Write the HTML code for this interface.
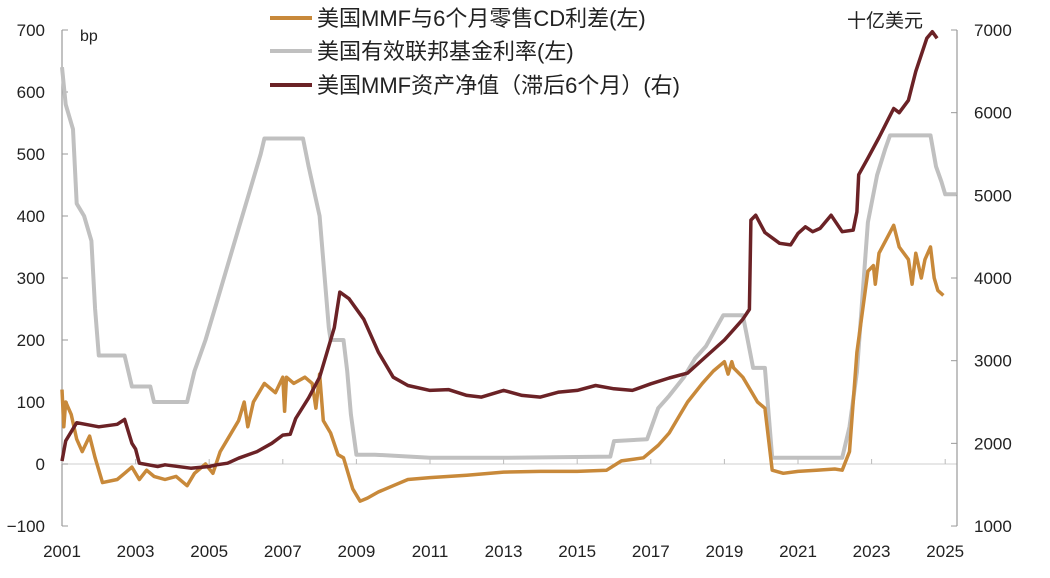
<!DOCTYPE html>
<html><head><meta charset="utf-8"><style>
body{margin:0;background:#fff;}
svg{display:block;font-family:"Liberation Sans","Noto Sans CJK SC",sans-serif;}
</style></head><body>
<svg width="1050" height="578" viewBox="0 0 1050 578">
<g id="axes"></g>
<g id="series"></g>
<g>
  <line x1="270" y1="18" x2="312" y2="18" stroke="#C8893A" stroke-width="4"/>
  <text x="317" y="26" font-size="22" fill="#222">美国MMF与6个月零售CD利差(左)</text>
  <line x1="270" y1="51" x2="312" y2="51" stroke="#C0C0C0" stroke-width="4"/>
  <text x="317" y="59" font-size="22" fill="#222">美国有效联邦基金利率(左)</text>
  <line x1="270" y1="85" x2="312" y2="85" stroke="#6B2226" stroke-width="4"/>
  <text x="317" y="93" font-size="22" fill="#222">美国MMF资产净值（滞后6个月）(右)</text>
</g>
<text x="80" y="41" font-size="16" fill="#222">bp</text>
<text x="847" y="27" font-size="19" fill="#222">十亿美元</text>
</svg>
<script>
const xTicks=[2001,2003,2005,2007,2009,2011,2013,2015,2017,2019,2021,2023,2025];
const leftTicks=[-100,0,100,200,300,400,500,600,700];
const rightTicks=[1000,2000,3000,4000,5000,6000,7000];
const ffrYears=[2001,2001.1,2001.3,2001.4,2001.6,2001.8,2001.9,2002.0,2002.7,2002.9,2003.4,2003.5,2004.4,2004.6,2004.9,2005.2,2005.5,2005.8,2006.1,2006.4,2006.5,2007.55,2007.7,2008.0,2008.25,2008.3,2008.65,2008.75,2008.85,2009.0,2009.5,2011,2013,2015.9,2016.0,2016.9,2017.2,2017.5,2017.9,2018.2,2018.5,2018.97,2019.5,2019.6,2019.78,2020.1,2020.3,2022.2,2022.4,2022.6,2022.9,2023.15,2023.37,2023.5,2024.6,2024.75,2024.9,2025.0,2025.3];
const ffrVals=[640,580,540,420,400,360,250,175,175,125,125,100,100,150,200,260,320,380,440,500,525,525,480,400,220,200,200,150,80,15,15,10,10,12,37,40,90,110,140,170,190,240,240,210,155,155,10,10,60,148,390,466,508,530,530,480,455,435,435];
const spreadYears=[2001,2001.05,2001.1,2001.25,2001.4,2001.55,2001.75,2001.9,2002.1,2002.5,2002.7,2002.9,2003.1,2003.3,2003.5,2003.8,2004.1,2004.4,2004.6,2004.9,2005.1,2005.3,2005.5,2005.8,2005.95,2006.05,2006.2,2006.5,2006.8,2007.0,2007.05,2007.1,2007.3,2007.6,2007.8,2007.9,2008.0,2008.1,2008.3,2008.5,2008.65,2008.9,2009.1,2009.3,2009.6,2010.0,2010.4,2011,2012,2013,2014,2015,2015.8,2016.2,2016.8,2017.2,2017.5,2017.8,2018.0,2018.4,2018.7,2019.0,2019.1,2019.2,2019.25,2019.5,2019.7,2019.9,2020.1,2020.3,2020.6,2021,2021.5,2022.0,2022.2,2022.4,2022.6,2022.9,2023.05,2023.1,2023.2,2023.6,2023.75,2024.0,2024.1,2024.2,2024.35,2024.45,2024.6,2024.7,2024.8,2024.95];
const spreadVals=[120,60,100,80,40,20,45,10,-30,-25,-15,-5,-25,-10,-20,-25,-20,-35,-15,0,-15,20,40,70,100,60,100,130,115,140,85,140,130,140,130,90,145,70,50,15,10,-40,-60,-55,-45,-35,-25,-22,-18,-13,-12,-12,-10,5,10,30,50,80,100,130,150,165,145,165,155,140,120,100,90,-10,-15,-12,-10,-8,-10,20,180,311,320,290,340,385,350,330,290,340,300,330,350,300,280,272];
const mmfYears=[2001,2001.1,2001.4,2002,2002.5,2002.7,2002.9,2003.0,2003.1,2003.6,2003.8,2004.5,2005,2005.2,2005.5,2005.8,2006.3,2006.7,2007.0,2007.2,2007.35,2007.7,2008.0,2008.2,2008.4,2008.55,2008.8,2009.2,2009.6,2010,2010.4,2011,2011.5,2012,2012.4,2013,2013.5,2014,2014.5,2015,2015.5,2016,2016.5,2017,2017.5,2018,2018.5,2019,2019.5,2019.68,2019.72,2019.85,2020.1,2020.5,2020.8,2021.0,2021.2,2021.4,2021.6,2021.9,2022.2,2022.5,2022.6,2022.65,2022.9,2023.2,2023.6,2023.75,2024.0,2024.2,2024.5,2024.65,2024.78];
const mmfVals=[1785,2030,2250,2200,2230,2290,2000,1930,1760,1720,1740,1700,1720,1740,1760,1820,1900,2000,2100,2110,2300,2550,2800,3100,3400,3830,3750,3500,3100,2800,2700,2640,2650,2580,2560,2640,2580,2560,2620,2640,2700,2660,2640,2720,2790,2850,3050,3250,3500,3620,4700,4760,4550,4420,4400,4540,4620,4560,4600,4760,4560,4580,4800,5250,5450,5700,6050,6000,6150,6500,6900,6980,6900];

const X0=62,PX=36.8;
const xs=y=>X0+(y-2001)*PX;
const yl=v=>464-v*0.62;
const yr=v=>30+(7000-v)*0.08267;
const NS="http://www.w3.org/2000/svg";
function mk(tag,attrs,parent){const e=document.createElementNS(NS,tag);for(const k in attrs)e.setAttribute(k,attrs[k]);parent.appendChild(e);return e;}
const ax=document.getElementById('axes');
const zl=mk('line',{x1:62,y1:yl(0),x2:957,y2:yl(0),stroke:'#cfcfcf','stroke-width':1},ax);


const la=mk('line',{x1:62,y1:yl(700),x2:62,y2:yl(-100),stroke:'#999','stroke-width':1.2},ax);


const ra=mk('line',{x1:957,y1:yr(7000),x2:957,y2:yr(1000),stroke:'#999','stroke-width':1.2},ax);


leftTicks.forEach(v=>{
  const t=mk('line',{x1:62,y1:yl(v),x2:68,y2:yl(v),stroke:'#999'},ax);
  
  
  const l=mk('text',{x:45,y:yl(v)+6,'text-anchor':'end','font-size':17,fill:'#222'},ax);
  l.textContent=v<0?'\u2212'+(-v):String(v);
  
  
});
rightTicks.forEach(v=>{
  const t=mk('line',{x1:951,y1:yr(v),x2:957,y2:yr(v),stroke:'#999'},ax);
  
  
  const l=mk('text',{x:974,y:yr(v)+6,'font-size':17,fill:'#222'},ax);
  l.textContent=String(v);
  
  
});
xTicks.forEach(v=>{
  const t=mk('line',{x1:xs(v),y1:yl(0),x2:xs(v),y2:yl(0)-5,stroke:'#bbb'},ax);
  
  
  const l=mk('text',{x:xs(v),y:557,'text-anchor':'middle','font-size':17,fill:'#222'},ax);
  l.textContent=String(v);
  
  
});
const sg=document.getElementById('series');
function path(years,vals,fy){return years.map((y,i)=>(i?'L':'M')+xs(y).toFixed(1)+','+fy(vals[i]).toFixed(1)).join(' ');}
const p1=mk('path',{d:path(ffrYears,ffrVals,yl),fill:'none',stroke:'#C0C0C0','stroke-width':4,'stroke-linejoin':'round'},sg);


const p2=mk('path',{d:path(spreadYears,spreadVals,yl),fill:'none',stroke:'#C8893A','stroke-width':3.5,'stroke-linejoin':'round'},sg);


const p3=mk('path',{d:path(mmfYears,mmfVals,yr),fill:'none',stroke:'#6B2226','stroke-width':3.5,'stroke-linejoin':'round'},sg);


</script>
</body></html>
